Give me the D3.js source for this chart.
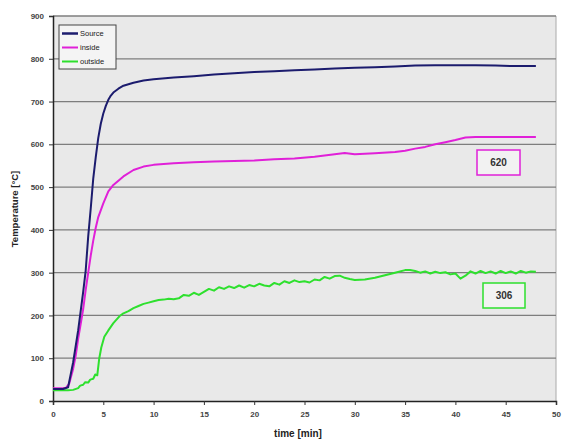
<!DOCTYPE html>
<html><head><meta charset="utf-8">
<script src="https://cdn.jsdelivr.net/npm/d3@7"></script>
<style>body{margin:0;background:#fff;}svg{display:block;font-family:Arial,"Liberation Sans",sans-serif;}</style>
</head><body><svg id="c" width="562" height="441"></svg>
<script>
const yTicks = [0,100,200,300,400,500,600,700,800,900];
const xTicks = [0,5,10,15,20,25,30,35,40,45,50];
const seriesNames = ["Source","inside","outside"];
const seriesColors = ["#1c1c6e","#e020d8","#2ee02e"];

const sourceT = [0,1,1.5,2,2.5,2.75,3,3.25,3.5,3.75,4,4.25,4.5,4.75,5,5.25,5.5,5.75,6,6.5,7,8,9,10,12,14,16,18,20,22,24,26,28,30,32,34,36,38,40,42,44,46,48];
const sourceV = [28,28,32,90,165,210,255,305,385,450,520,570,615,648,672,690,704,714,721,730,737,744,749,752,756,759,763,766,769,771,773,775,777,779,780,782,784,785,785,785,784,783,783];

const insideT = [0,1,1.3,1.6,2,2.25,2.5,2.75,3,3.25,3.5,3.75,4,4.25,4.5,5,5.5,6,6.5,7,8,9,10,12,14,16,18,20,22,24,26,28,29,30,32,34,35,36,37,38,39,40,41,42,44,46,48];
const insideV = [30,30,31,40,75,105,145,180,215,260,300,340,375,405,430,462,490,505,515,525,540,548,552,556,558,560,561,562,565,567,571,577,580,577,579,582,585,590,594,600,605,610,616,617,617,617,617];

const outsideT = [0,1.5,2,2.5,2.7,3,3.2,3.5,3.7,4,4.2,4.4,4.6,4.8,5.1,5.5,6,6.6,7,7.5,8,8.5,9,9.5,10,10.5,11,11.5,12,12.5,13,13.5,14,14.5,15,15.5,16,16.5,17,17.5,18,18.5,19,19.5,20,20.5,21,21.5,22,22.5,23,23.5,24,24.5,25,25.5,26,26.5,27,27.5,28,28.5,29,29.5,30,31,32,33,34,35,35.5,36,36.5,37,37.5,38,38.5,39,39.5,40,40.5,41,41.5,42,42.5,43,43.5,44,44.5,45,45.5,46,46.5,47,47.5,48];
const outsideV = [25,25,26,30,36,38,44,43,50,52,62,60,100,125,150,165,182,198,205,210,217,222,227,230,233,236,237,239,238,240,248,246,253,248,255,262,258,266,262,268,264,270,265,271,268,274,270,268,276,272,280,276,282,278,280,277,284,282,290,286,292,293,288,285,283,284,288,294,300,306,306,304,300,303,298,302,299,301,296,298,286,293,303,298,304,299,303,298,304,299,303,298,304,300,303,302];

const annotations = [{text:"620", series:1},{text:"306", series:2}];

const svg = d3.select("#c");
const L=53, R=556, T=16, B=401;
const x = d3.scaleLinear().domain([0,50]).range([L,R]);
const y = d3.scaleLinear().domain([0,900]).range([B,T]);

svg.append("rect").attr("x",L).attr("y",T).attr("width",R-L).attr("height",B-T).attr("fill","#e9e9e9");
svg.append("line").attr("x1",R).attr("x2",R).attr("y1",T).attr("y2",B).attr("stroke","#aaa").attr("stroke-width",1);

svg.append("g").selectAll("line").data(yTicks.filter(d=>d>0)).join("line")
  .attr("x1",L).attr("x2",R).attr("y1",d=>y(d)).attr("y2",d=>y(d))
  .attr("stroke","#7e7e7e").attr("stroke-width",1.3);

const yAxis = svg.append("g").attr("transform",`translate(${L},0)`)
  .call(d3.axisLeft(y).tickValues(yTicks).tickSize(4).tickPadding(5));
const xAxis = svg.append("g").attr("transform",`translate(0,${B})`)
  .call(d3.axisBottom(x).tickValues(xTicks).tickSize(4).tickPadding(6));
[yAxis,xAxis].forEach(a=>{
  a.select(".domain").attr("stroke","#222").attr("stroke-width",1.5);
  a.selectAll(".tick line").attr("stroke","#333");
  a.selectAll("text").attr("font-size",8).attr("fill","#444").attr("font-weight","bold");
});

const line = d3.line().x(d=>x(d[0])).y(d=>y(d[1]));
const data = [
  d3.zip(sourceT, sourceV),
  d3.zip(insideT, insideV),
  d3.zip(outsideT, outsideV)
];
[2,1,0].forEach(i=>{
  svg.append("path").datum(data[i]).attr("d",line).attr("fill","none")
    .attr("stroke",seriesColors[i]).attr("stroke-width",2).attr("stroke-linejoin","round");
});

const lg = svg.append("g");
lg.append("rect").attr("x",59).attr("y",25).attr("width",57).attr("height",44)
  .attr("fill","#f4f4f4").attr("stroke","#444").attr("stroke-width",1);
seriesNames.forEach((n,i)=>{
  const yy = 33.5 + i*14;
  lg.append("line").attr("x1",62).attr("x2",78).attr("y1",yy).attr("y2",yy)
    .attr("stroke",seriesColors[i]).attr("stroke-width",i===0?2.5:2);
  lg.append("text").attr("x",80).attr("y",yy+2.8).text(n)
    .attr("font-size",7.5).attr("fill","#222");
});

const boxes = [{x:477,y:150,w:43,h:25},{x:483,y:283,w:42,h:25}];
annotations.forEach((a,i)=>{
  const b = boxes[i];
  svg.append("rect").attr("x",b.x).attr("y",b.y).attr("width",b.w).attr("height",b.h)
    .attr("fill","#f2f2f2").attr("stroke",seriesColors[a.series]).attr("stroke-width",1.5);
  svg.append("text").attr("x",b.x+b.w/2).attr("y",b.y+b.h/2+3.5).attr("text-anchor","middle")
    .attr("font-size",10).attr("font-weight","bold").attr("fill","#333").text(a.text);
});

svg.append("text").attr("transform","translate(18,209) rotate(-90)").attr("text-anchor","middle")
  .attr("font-size",9.5).attr("font-weight","bold").attr("fill","#222").text("Temperature [°C]");
svg.append("text").attr("x",298).attr("y",437).attr("text-anchor","middle")
  .attr("font-size",10).attr("font-weight","bold").attr("fill","#222").text("time [min]");
</script></body></html>
